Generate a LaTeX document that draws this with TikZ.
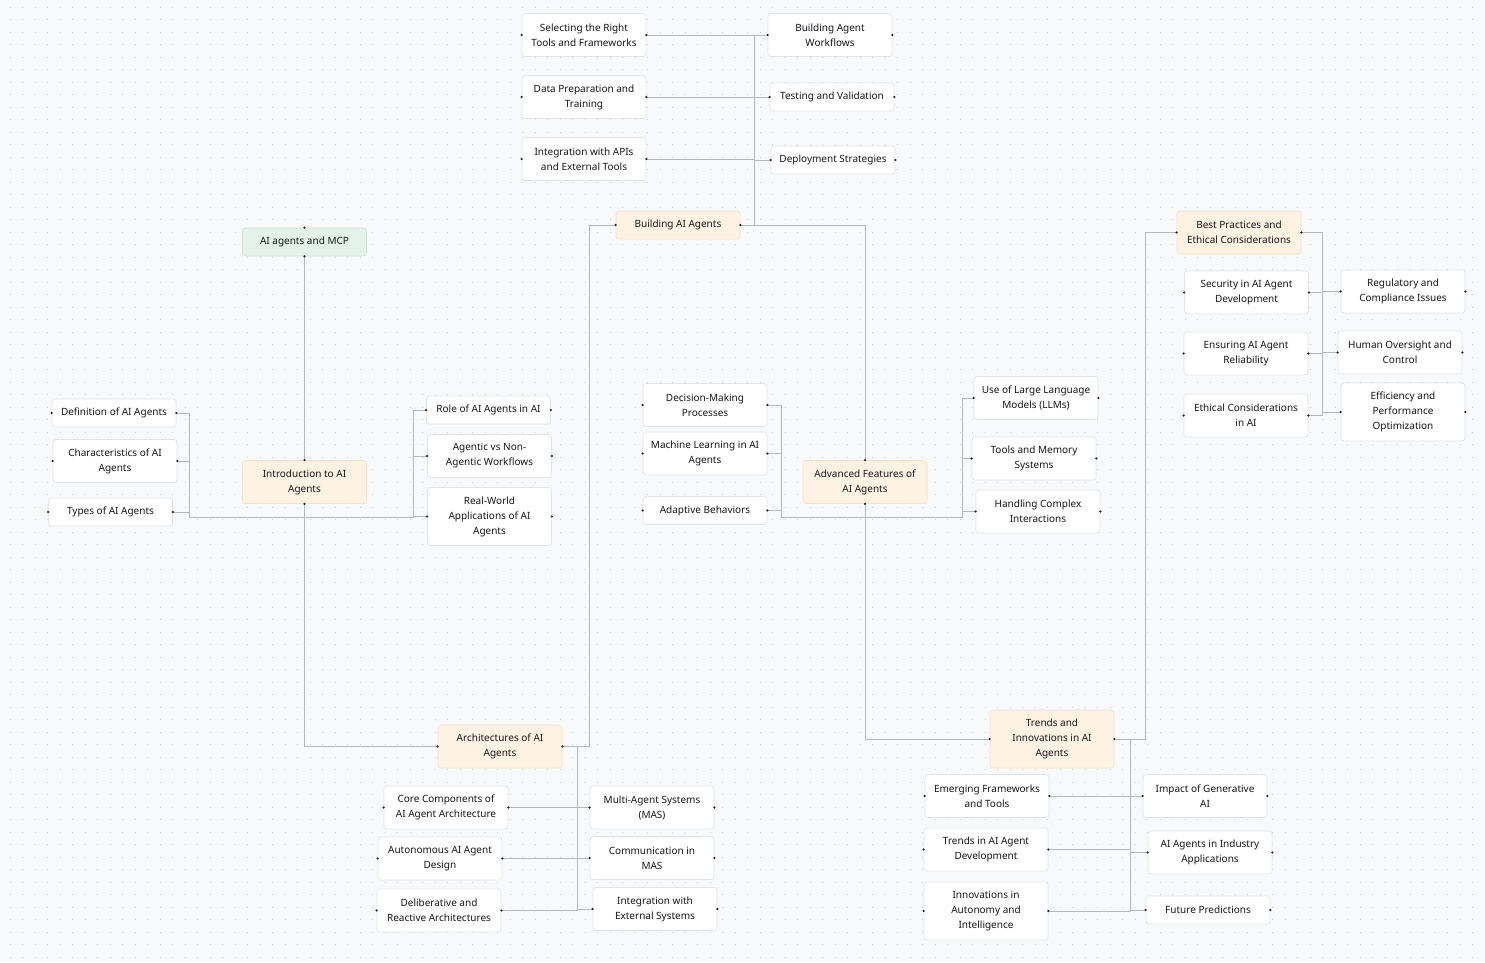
\documentclass[tikz,border=0pt]{standalone}
\usepackage{fontspec}
\setmainfont{Noto Sans}
\usetikzlibrary{positioning}
\definecolor{canvas}{HTML}{F8F9FB}
\definecolor{griddot}{HTML}{CDD1D7}
\definecolor{boxline}{HTML}{E1E3E7}
\definecolor{modfill}{HTML}{FEF2E3}
\definecolor{modline}{HTML}{F2E2CC}
\definecolor{rootfill}{HTML}{E3F3EA}
\definecolor{rootline}{HTML}{CFE5D8}
\definecolor{edge}{HTML}{B4B8BF}
\definecolor{ink}{HTML}{17171B}
\tikzset {
  % plain topic box
  box/.style = {draw=boxline, fill=white, rounded corners=3pt, line width=0.7pt,
    minimum width=124pt, minimum height=28pt, inner sep=2pt, align=center,
    text=ink, font=\fontsize{10}{15}\selectfont},
  two/.style={minimum height=43pt},
  three/.style={minimum height=58pt},
  % module boxes and the root
  module/.style={box, fill=modfill, draw=modline},
  root/.style={box, fill=rootfill, draw=rootline},
  % connectors
  link/.style={draw=edge, line width=0.9pt},
  handle/.style={fill=black!85},
}

\begin{document}
\begin{tikzpicture}[x=1pt, y=-1pt]
      \fill[canvas] (0,0) rectangle (1485,962);
      \useasboundingbox (0,0) rectangle (1485,962);
      \foreach \y in {7.3,19.8,...,962}
        \draw[griddot, line width=0.9pt, dash pattern=on 0.9pt off 11.6pt, dash phase=3pt] (0,\y) -- (1485,\y);

      \node[root] (mcp) at (304.5,242) {AI agents and MCP};

      \node[module,two] (intro) at (304.5,482) {Introduction to AI\\Agents};
      \node[box] (defn) at (114,413) {Definition of AI Agents};
      \node[box,two] (chars) at (115,461) {Characteristics of AI\\Agents};
      \node[box] (types) at (110.5,512) {Types of AI Agents};
      \node[box] (role) at (488.5,410) {Role of AI Agents in AI};
      \node[box,two] (agentic) at (489.5,456) {Agentic vs Non-\\Agentic Workflows};
      \node[box,three] (realw) at (489.5,516.5) {Real-World\\Applications of AI\\Agents};

      \node[module] (build) at (678,225) {Building AI Agents};
      \node[box,two] (tools) at (584,35) {Selecting the Right\\Tools and Frameworks};
      \node[box,two] (dataprep) at (584,97) {Data Preparation and\\Training};
      \node[box,two] (apis) at (584,159) {Integration with APIs\\and External Tools};
      \node[box,two] (flows) at (830,35) {Building Agent\\Workflows};
      \node[box] (testing) at (832,97) {Testing and Validation};
      \node[box] (deploy) at (833,160) {Deployment Strategies};

      \node[module,two] (adv) at (865,482) {Advanced Features of\\AI Agents};
      \node[box,two] (decide) at (705,405) {Decision-Making\\Processes};
      \node[box,two] (mlearn) at (705,453.5) {Machine Learning in AI\\Agents};
      \node[box] (adapt) at (705,510.5) {Adaptive Behaviors};
      \node[box,two] (llm) at (1036,398) {Use of Large Language\\Models (LLMs)};
      \node[box,two] (memory) at (1034,458.5) {Tools and Memory\\Systems};
      \node[box,two] (complex) at (1038,511.5) {Handling Complex\\Interactions};

      \node[module,two] (best) at (1239,232.5) {Best Practices and\\Ethical Considerations};
      \node[box,two] (security) at (1246.5,292.5) {Security in AI Agent\\Development};
      \node[box,two] (reliab) at (1246,353.5) {Ensuring AI Agent\\Reliability};
      \node[box,two] (ethics) at (1246,415.5) {Ethical Considerations\\in AI};
      \node[box,two] (regul) at (1403,291.5) {Regulatory and\\Compliance Issues};
      \node[box,two] (oversight) at (1400,352.5) {Human Oversight and\\Control};
      \node[box,three] (effic) at (1403,412) {Efficiency and\\Performance\\Optimization};

      \node[module,two] (arch) at (500,746.5) {Architectures of AI\\Agents};
      \node[box,two] (core) at (446,807.5) {Core Components of\\AI Agent Architecture};
      \node[box,two] (autono) at (440,858.5) {Autonomous AI Agent\\Design};
      \node[box,two] (delib) at (439,910.5) {Deliberative and\\Reactive Architectures};
      \node[box,two] (mas) at (652,807.5) {Multi-Agent Systems\\(MAS)};
      \node[box,two] (commun) at (652,858) {Communication in\\MAS};
      \node[box,two] (extsys) at (655,909) {Integration with\\External Systems};

      \node[module,three] (trends) at (1052,739) {Trends and\\Innovations in AI\\Agents};
      \node[box,two] (emerg) at (987,796) {Emerging Frameworks\\and Tools};
      \node[box,two] (trdev) at (986,849.5) {Trends in AI Agent\\Development};
      \node[box,three] (innov) at (986,911) {Innovations in\\Autonomy and\\Intelligence};
      \node[box,two] (genai) at (1205,796) {Impact of Generative\\AI};
      \node[box,two] (industry) at (1210,852.5) {AI Agents in Industry\\Applications};
      \node[box] (future) at (1208,910) {Future Predictions};

      % module chain
      \draw [link] (mcp) -- (intro);
      \draw [link] (intro.south) |- (arch.west);
      \draw [link] (arch.east) -- ++(27,0) |- (build.west);
      \draw [link] (build.east) -| (adv.north);
      \draw [link] (adv.south) |- (trends.west);
      \draw [link] (trends.east) -- ++(31,0) |- (best.west);

      % sub topics
      \foreach \c in {defn,chars,types}
        \draw [link] (intro.south) |- (189,517) |- (\c.east);
      \foreach \c in {role,agentic,realw}
        \draw [link] (intro.south) |- (413,517) |- (\c.west);
      \foreach \c in {tools,dataprep,apis}
        \draw [link] (build.east) -- ++(14,0) |- (\c.east);
      \foreach \c in {flows,testing,deploy}
        \draw [link] (build.east) -- ++(14,0) |- (\c.west);
      \foreach \c in {decide,mlearn,adapt}
        \draw [link] (adv.south) |- (781,517) |- (\c.east);
      \foreach \c in {llm,memory,complex}
        \draw [link] (adv.south) |- (962,517) |- (\c.west);
      \foreach \c in {security,reliab,ethics}
        \draw [link] (best.east) -- ++(21,0) |- (\c.east);
      \foreach \c in {regul,oversight,effic}
        \draw [link] (best.east) -- ++(21,0) |- (\c.west);
      \foreach \c in {core,autono,delib}
        \draw [link] (arch.east) -- ++(15,0) |- (\c.east);
      \foreach \c in {mas,commun,extsys}
        \draw [link] (arch.east) -- ++(15,0) |- (\c.west);
      \foreach \c in {emerg,trdev,innov}
        \draw [link] (trends.east) -- ++(16,0) |- (\c.east);
      \foreach \c in {genai,industry,future}
        \draw [link] (trends.east) -- ++(16,0) |- (\c.west);

      % connection handles
      \foreach \n in {mcp,intro,adv} {
        \fill[handle] (\n.north) circle (1.2pt);
        \fill[handle] (\n.south) circle (1.2pt);
      }
      \foreach \n in {defn,chars,types,role,agentic,realw,build,tools,dataprep,apis,
          flows,testing,deploy,decide,mlearn,adapt,llm,memory,complex,best,security,
          reliab,ethics,regul,oversight,effic,arch,core,autono,delib,mas,commun,
          extsys,trends,emerg,trdev,innov,genai,industry,future} {
        \fill[handle] (\n.west) circle (1.2pt);
        \fill[handle] (\n.east) circle (1.2pt);
      }
    \end{tikzpicture}
\end{document}
